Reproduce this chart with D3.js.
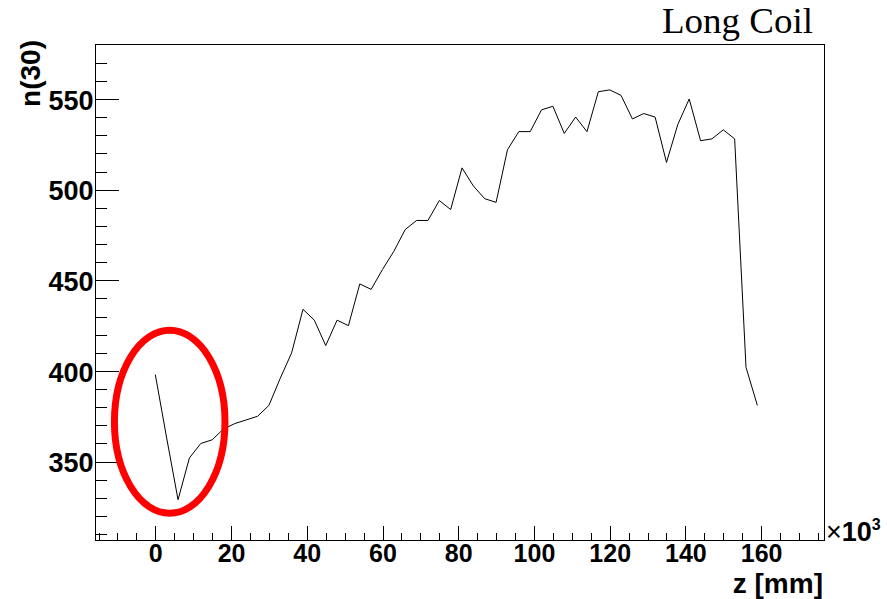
<!DOCTYPE html>
<html>
<head>
<meta charset="utf-8">
<script src="https://cdn.jsdelivr.net/npm/d3@7"></script>
<style>
  body { margin: 0; background: #fff; }
  svg { display: block; }
</style>
</head>
<body>
<svg id="chart" width="887" height="599"></svg>
<script>
// Scan positions (z, in units of 10^3 mm) and measured n(30)
const zPositions = [
  0, 3, 6, 9, 12, 15, 18, 21, 24, 27,
  30, 33, 36, 39, 42, 45, 48, 51, 54, 57,
  60, 63, 66, 69, 72, 75, 78, 81, 84, 87,
  90, 93, 96, 99, 102, 105, 108, 111, 114, 117,
  120, 123, 126, 129, 132, 135, 138, 141, 144, 147,
  150, 153, 156, 159
];
const n30Values = [
  398, 363, 329, 352, 360, 362, 368, 371, 373, 375,
  381, 396, 410, 434, 428, 414, 428, 425, 448, 445,
  456, 466, 478, 483, 483, 494, 489, 512, 502, 495,
  493, 522, 532, 532, 544, 546, 531, 540, 532, 554,
  555, 552, 539, 542, 540, 515, 536, 550, 527, 528,
  533, 528, 402, 381
];

// Axis ticks
const xTickValues = [0, 20, 40, 60, 80, 100, 120, 140, 160];
const xMinorTicks = d3.range(-15, 176, 5);
const yTickValues = [350, 400, 450, 500, 550];
const yMinorTicks = d3.range(310, 580, 10);

// Highlighted start region (centre and half-widths in data units)
const markCenter = [3.8, 372];
const markRadius = [14.6, 50.5];

const frame = { left: 95.5, right: 824, top: 44.5, bottom: 540.5 };

const svg = d3.select("#chart");

const x = d3.scaleLinear().domain([-15.8, 176.6]).range([frame.left, frame.right]);
const y = d3.scaleLinear().domain([306.5, 580.05]).range([frame.bottom, frame.top]);

const labelFont = "'Liberation Sans', Arial, Helvetica, sans-serif";

// Frame
svg.append("rect")
  .attr("x", frame.left).attr("y", frame.top)
  .attr("width", frame.right - frame.left)
  .attr("height", frame.bottom - frame.top)
  .attr("fill", "none").attr("stroke", "#000").attr("stroke-width", 1)
  .attr("shape-rendering", "crispEdges");

// X axis: inward ticks, major + minor
const xMajorLen = 15, xMinorLen = 8;
const gxMinor = svg.append("g")
  .attr("transform", `translate(0,${frame.bottom})`)
  .call(d3.axisBottom(x).tickValues(xMinorTicks).tickSize(-xMinorLen).tickFormat(""));
const gx = svg.append("g")
  .attr("transform", `translate(0,${frame.bottom})`)
  .call(d3.axisBottom(x).tickValues(xTickValues).tickSize(-xMajorLen).tickPadding(4));

// Y axis: inward ticks, major + minor
const yMajorLen = 23, yMinorLen = 11.5;
const gyMinor = svg.append("g")
  .attr("transform", `translate(${frame.left},0)`)
  .call(d3.axisLeft(y).tickValues(yMinorTicks).tickSize(-yMinorLen).tickFormat(""));
const gy = svg.append("g")
  .attr("transform", `translate(${frame.left},0)`)
  .call(d3.axisLeft(y).tickValues(yTickValues).tickSize(-yMajorLen).tickPadding(2));

[gx, gxMinor, gy, gyMinor].forEach(g => {
  g.select(".domain").remove();
  g.selectAll(".tick line").attr("stroke", "#000").attr("shape-rendering", "crispEdges");
  g.selectAll("text")
    .attr("fill", "#000")
    .style("font-family", labelFont)
    .style("font-weight", "bold")
    .style("font-size", "27px");
});
gx.selectAll("text").style("font-size", "25px");
gy.selectAll("text").attr("dy", "0.38em");

// Data line
const points = zPositions.map((z, i) => ({ z, n: n30Values[i] }));
svg.append("path")
  .datum(points)
  .attr("fill", "none")
  .attr("stroke", "#000")
  .attr("stroke-width", 1)
  .attr("d", d3.line().x(d => x(d.z)).y(d => y(d.n)));

// Red ellipse around the start of the scan
svg.append("ellipse")
  .attr("cx", x(markCenter[0]))
  .attr("cy", y(markCenter[1]))
  .attr("rx", x(markCenter[0] + markRadius[0]) - x(markCenter[0]))
  .attr("ry", y(markCenter[1] - markRadius[1]) - y(markCenter[1]))
  .attr("fill", "none")
  .attr("stroke", "#ff0000")
  .attr("stroke-width", 7);

// Titles
svg.append("text")
  .attr("x", 662).attr("y", 33)
  .attr("textLength", 151)
  .attr("lengthAdjust", "spacingAndGlyphs")
  .style("font-family", "'Liberation Serif', 'Times New Roman', serif")
  .style("font-size", "35px")
  .attr("fill", "#000")
  .text("Long Coil");

svg.append("text")
  .attr("transform", "translate(40,40) rotate(-90)")
  .attr("text-anchor", "end")
  .style("font-family", labelFont)
  .style("font-weight", "bold")
  .style("font-size", "28px")
  .attr("fill", "#000")
  .text("n(30)");

svg.append("text")
  .attr("x", 823).attr("y", 593)
  .attr("text-anchor", "end")
  .style("font-family", labelFont)
  .style("font-weight", "bold")
  .style("font-size", "28px")
  .attr("fill", "#000")
  .text("z [mm]");

const exp = svg.append("text")
  .attr("x", 826).attr("y", 541)
  .style("font-family", labelFont)
  .style("font-size", "27px")
  .attr("fill", "#000");
exp.append("tspan").text("×");
exp.append("tspan").style("font-weight", "bold").text("10");
exp.append("tspan").attr("dy", -11).style("font-weight", "bold").style("font-size", "16px").text("3");
</script>
</body>
</html>
